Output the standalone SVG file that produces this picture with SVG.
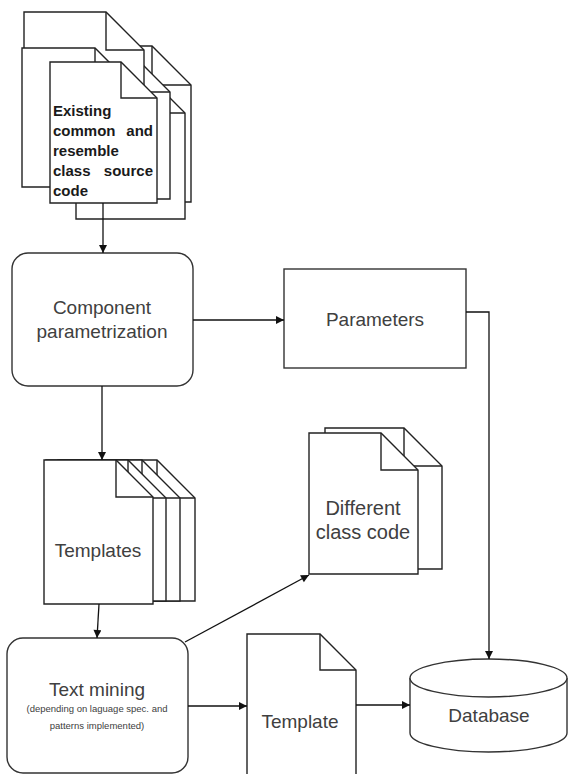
<svg xmlns="http://www.w3.org/2000/svg" width="568" height="774" viewBox="0 0 568 774">
<defs>
<marker id="arrow" viewBox="0 0 10 10" refX="10" refY="5" markerWidth="9" markerHeight="8" markerUnits="userSpaceOnUse" orient="auto">
<path d="M0,0 L10,5 L0,10 z" fill="#111"/>
</marker>
</defs>
<style>
.doc{fill:#fff;stroke:#222;stroke-width:1.4;stroke-linejoin:miter}
.fold{fill:none;stroke:#222;stroke-width:1.4}
.box{fill:#fff;stroke:#333;stroke-width:1.4}
.conn{fill:none;stroke:#111;stroke-width:1.3;marker-end:url(#arrow)}
.line{fill:none;stroke:#111;stroke-width:1.3}
.lbl{font-family:"Liberation Sans",Arial,sans-serif;font-size:19px;fill:#404040;text-anchor:middle}
.small{font-family:"Liberation Sans",Arial,sans-serif;font-size:9.5px;fill:#404040;text-anchor:middle}
.bold{font-family:"Liberation Sans",Arial,sans-serif;font-size:15px;font-weight:bold;fill:#1a1a1a}
</style>
<rect width="568" height="774" fill="#fff"/>

<g id="source-code">
<path class="doc" d="M60,46 H152 L191,85 V202 H60 Z"/><path class="fold" d="M152,46 V85 H191"/>
<path class="doc" d="M76,76 H148 L185,113 V219 H76 Z"/><path class="fold" d="M148,76 V113 H185"/>
<path class="doc" d="M55,55 H133 L170,92 V199 H55 Z"/><path class="fold" d="M133,55 V92 H170"/>
<path class="doc" d="M24,12 H106 L144,50 V180 H24 Z"/><path class="fold" d="M106,12 V50 H144"/>
<path class="doc" d="M22,48 H95 L132,85 V187 H22 Z"/><path class="fold" d="M95,48 V85 H132"/>
<path class="doc" d="M50,62 H121 L157,98 V203 H50 Z"/><path class="fold" d="M121,62 V98 H157"/>
<text class="bold" x="53" y="116">Existing</text>
<text class="bold" x="53" y="136">common</text>
<text class="bold" x="153" y="136" text-anchor="end">and</text>
<text class="bold" x="53" y="156">resemble</text>
<text class="bold" x="53" y="176">class</text>
<text class="bold" x="153" y="176" text-anchor="end">source</text>
<text class="bold" x="53" y="196">code</text>
</g>

<g id="component-parametrization">
<rect class="box" x="12" y="253" width="181" height="133" rx="16"/>
<text class="lbl" x="102" y="314">Component</text>
<text class="lbl" x="102" y="338">parametrization</text>
</g>

<g id="parameters">
<rect class="box" x="284" y="269" width="182" height="99"/>
<text class="lbl" x="375" y="326">Parameters</text>
</g>

<g id="templates">
<path class="doc" d="M60,460 H157 L195,498 V601 H60 Z"/><path class="fold" d="M157,460 V498 H195"/>
<path class="doc" d="M58,460 H142 L180,498 V601 H58 Z"/><path class="fold" d="M142,460 V498 H180"/>
<path class="doc" d="M46,460 H128 L166,498 V601 H46 Z"/><path class="fold" d="M128,460 V498 H166"/>
<path class="doc" d="M44,460 H116 L153,497 V604 H44 Z"/><path class="fold" d="M116,460 V497 H153"/>
<text class="lbl" x="98" y="557">Templates</text>
</g>

<g id="different-class-code">
<path class="doc" d="M325,428 H404 L442,466 V569 H325 Z"/><path class="fold" d="M404,428 V466 H442"/>
<path class="doc" d="M309,433 H381 L418,470 V574 H309 Z"/><path class="fold" d="M381,433 V470 H418"/>
<text class="lbl" x="363" y="515" style="font-size:20px">Different</text>
<text class="lbl" x="363" y="539" style="font-size:20px">class code</text>
</g>

<g id="text-mining">
<rect class="box" x="7" y="638" width="181" height="135" rx="16"/>
<text class="lbl" x="97" y="696">Text mining</text>
<text class="small" x="97" y="712">(depending on laguage spec. and</text>
<text class="small" x="97" y="729">patterns implemented)</text>
</g>

<g id="template">
<path class="doc" d="M247,634 H320 L356,670 V780 H247 Z"/><path class="fold" d="M320,634 V670 H356"/>
<text class="lbl" x="300" y="728">Template</text>
</g>

<g id="database">
<path class="box" d="M410,678 V733 A78.5,19 0 0 0 567,733 V678"/>
<ellipse class="box" cx="488.5" cy="678" rx="78.5" ry="19"/>
<text class="lbl" x="489" y="722">Database</text>
</g>

<g id="connectors">
<path class="conn" d="M103,203 V253"/>
<path class="conn" d="M193,320 H284"/>
<path class="conn" d="M466,312 H489 V659"/>
<path class="conn" d="M102,386 V460"/>
<path class="conn" d="M99,604 L97,638"/>
<path class="conn" d="M185,642 L309,575"/>
<path class="conn" d="M188,706 H247"/>
<path class="conn" d="M356,705 H410"/>
</g>
</svg>
